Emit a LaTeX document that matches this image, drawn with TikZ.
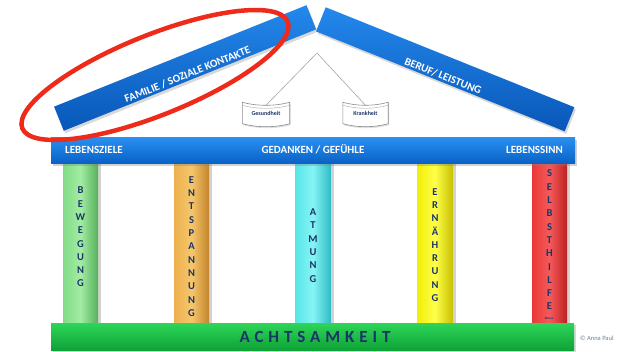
\documentclass[tikz,border=0pt]{standalone}
\usepackage{fontspec}
\setmainfont{Carlito}
\usetikzlibrary{shadows}
\pgfdeclarelayer{back}
\pgfdeclarelayer{bg}
\pgfsetlayers{back,bg,main}
\definecolor{bluetop}{HTML}{2488EC}
\definecolor{bluebot}{HTML}{0857B8}
\definecolor{archtop}{HTML}{2A90F2}
\definecolor{archbot}{HTML}{0A62C6}
\definecolor{navy}{HTML}{1B3468}
\definecolor{grL}{HTML}{A2ECA4}\definecolor{grM}{HTML}{82DC86}\definecolor{grD}{HTML}{56B05A}
\definecolor{orL}{HTML}{F6C66C}\definecolor{orM}{HTML}{EDB04E}\definecolor{orD}{HTML}{C2842A}
\definecolor{cyL}{HTML}{86F4F4}\definecolor{cyM}{HTML}{58E6E8}\definecolor{cyD}{HTML}{2EBCC6}
\definecolor{yeL}{HTML}{FFFF4A}\definecolor{yeM}{HTML}{F2EE08}\definecolor{yeD}{HTML}{C8C200}
\definecolor{reL}{HTML}{F45A5A}\definecolor{reM}{HTML}{EA3838}\definecolor{reD}{HTML}{BE2020}
\definecolor{baseT}{HTML}{2CD658}\definecolor{baseB}{HTML}{10A238}
\definecolor{ellred}{HTML}{EE2A1B}
\definecolor{copygrey}{HTML}{6F7F95}
\begin{document}
\begin{tikzpicture}[x=1pt,y=-1pt,
  beamnode/.style={rectangle, inner sep=0pt, draw=none, top color=bluetop, bottom color=bluebot,
     drop shadow={shadow xshift=1.5pt, shadow yshift=-2.5pt, opacity=.3}},
  beamlabel/.style={text=white, font=\bfseries\fontsize{11}{12}\selectfont, inner sep=0pt},
  archlabel/.style={text=white, font=\bfseries\fontsize{11}{12}\selectfont, inner sep=0pt},
  pillarnode/.style={rectangle, inner sep=0pt, draw=none, minimum width=35, minimum height=166,
     drop shadow={shadow xshift=3pt, shadow yshift=0pt, opacity=.35}},
  letters/.style={text=navy, font=\bfseries\fontsize{10.5}{13.3}\selectfont, align=center, inner sep=0pt},
  scrollnode/.style={text=navy, font=\bfseries\fontsize{6}{7}\selectfont, inner sep=0pt, minimum width=47, minimum height=21},
  scrollshape/.style={fill=white, draw=black!45, line width=0.6pt,
     drop shadow={shadow xshift=1pt, shadow yshift=-1.5pt, opacity=.25}},
  support/.style={draw=black!35, line width=0.6pt},
  ring/.style={draw=ellred, line width=4.5pt}]
\useasboundingbox (0,0) rectangle (621,351);
\begin{pgfonlayer}{back}
\fill[white] (0,0) rectangle (621,351);
\end{pgfonlayer}

% roof beams
\node[beamnode, rotate=21.9, minimum width=272, minimum height=26] (lbeam) at (185.1,68) {};
\node[beamnode, rotate=-21.9, minimum width=268, minimum height=26] (rbeam) at (445.2,69.3) {};
\node[beamlabel, rotate=21.9] (lbl) at (187.5,74.5) {FAMILIE / SOZIALE KONTAKTE};
\node[beamlabel, rotate=-21.9] (rbl) at (443,76) {BERUF/ LEISTUNG};

% scrolls and supports
\coordinate (apex) at (317,53);
\node[scrollnode] (ges) at (266,113) {Gesundheit};
\node[scrollnode, minimum width=45] (kra) at (365.5,113) {Krankheit};
\begin{pgfonlayer}{bg}
\foreach \s in {ges,kra}{
  \path[scrollshape] (\s.north west) .. controls ([xshift=15pt,yshift=-4pt]\s.north west) and ([xshift=-15pt,yshift=-4pt]\s.north east) .. (\s.north east)
     -- (\s.south east) .. controls ([xshift=-15pt,yshift=-4pt]\s.south east) and ([xshift=15pt,yshift=-4pt]\s.south west) .. (\s.south west) -- cycle;
  \draw[black!35, line width=0.4pt] ([yshift=-3pt]\s.north west) .. controls ([xshift=15pt,yshift=-7pt]\s.north west) and ([xshift=-15pt,yshift=-7pt]\s.north east) .. ([yshift=-3pt]\s.north east);
}
\end{pgfonlayer}
\draw[support] (apex) -- ([yshift=-3pt]ges.north);
\draw[support] (apex) -- ([yshift=-3pt]kra.north);

% pillars
\node[pillarnode, left color=grM, right color=grD, middle color=grL] (p1) at (80.5,243) {};
\node[pillarnode, left color=orM, right color=orD, middle color=orL] (p2) at (191.5,243) {};
\node[pillarnode, left color=cyM, right color=cyD, middle color=cyL] (p3) at (313,243) {};
\node[pillarnode, left color=yeM, right color=yeD, middle color=yeL] (p4) at (435,243) {};
\node[pillarnode, left color=reM, right color=reD, middle color=reL] (p5) at (549.5,243) {};
\node[letters] (t1) at (80.5,237) {B\\E\\W\\E\\G\\U\\N\\G};
\node[letters] (t2) at (191.5,246.5) {E\\N\\T\\S\\P\\A\\N\\N\\U\\N\\G};
\node[letters] (t3) at (313,245.5) {A\\T\\M\\U\\N\\G};
\node[letters] (t4) at (435,245) {E\\R\\N\\Ä\\H\\R\\U\\N\\G};
\node[letters] (t5) at (549.5,240) {S\\E\\L\\B\\S\\T\\H\\I\\L\\F\\E};
\node[text=navy, font=\bfseries\fontsize{3.2}{4}\selectfont, inner sep=0pt] (tiny) at (549,318) {Bonus};

% architrave
\node[rectangle, inner sep=0pt, minimum width=524, minimum height=26, top color=archtop, bottom color=archbot,
  drop shadow={shadow xshift=1.5pt, shadow yshift=-2.5pt, opacity=.35}] (arch) at (313,150) {};
\node[archlabel, anchor=base west] (lz) at (65,153.5) {LEBENSZIELE};
\node[archlabel, anchor=base] (gg) at (313,153.5) {GEDANKEN / GEFÜHLE};
\node[archlabel, anchor=base east] (ls) at (563,153.5) {LEBENSSINN};

% base
\node[rectangle, inner sep=0pt, minimum width=523, minimum height=27, top color=baseT, bottom color=baseB,
  drop shadow={shadow xshift=1.5pt, shadow yshift=-1.5pt, opacity=.3}] (base) at (312.5,336.5) {};
\node[text=navy, font=\bfseries\fontsize{17}{18}\selectfont\addfontfeature{LetterSpace=29}, inner sep=0pt, anchor=base] (achts) at (315,342.5) {ACHTSAMKEIT};

% copyright
\node[text=copygrey, font=\fontsize{6.5}{7}\selectfont, inner sep=0pt, anchor=west] (copy) at (580,338) {© Anna Paul};

% red ellipse
\draw[ring, rotate around={21.9:(155,75)}] (155,75) ellipse [x radius=143, y radius=40];
\end{tikzpicture}
\end{document}
